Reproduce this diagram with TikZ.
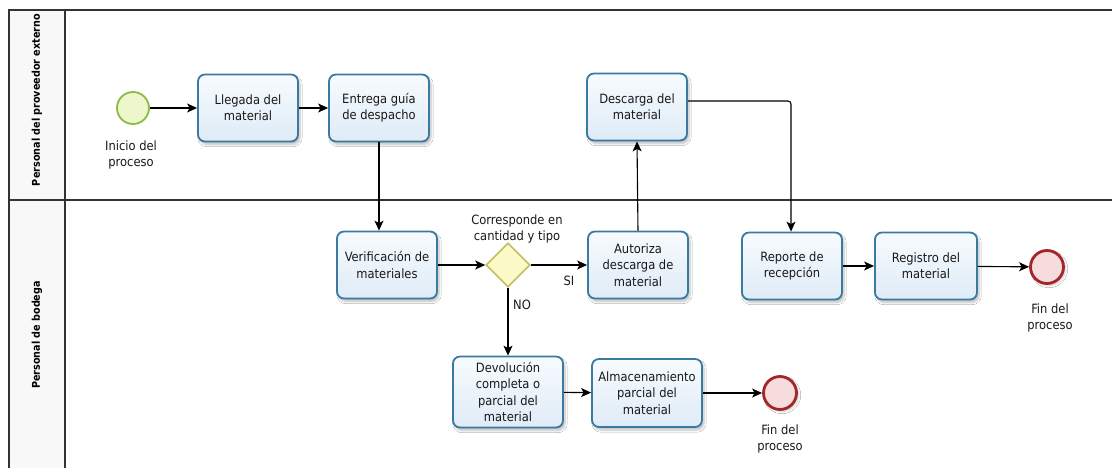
\documentclass[tikz,border=0pt]{standalone}
\usepackage{fontspec}
\setmainfont{DejaVu Sans Condensed}
\usetikzlibrary{arrows.meta,shapes.geometric,shadows.blur}

\definecolor{taskline}{HTML}{3A7AA0}
\definecolor{tasktop}{HTML}{F7FBFE}
\definecolor{taskbottom}{HTML}{DFEBF7}
\definecolor{startline}{HTML}{8CBB45}
\definecolor{startfill}{HTML}{EEF6CC}
\definecolor{endline}{HTML}{A3262A}
\definecolor{endfill}{HTML}{F6DCDC}
\definecolor{gateline}{HTML}{C4BE5E}
\definecolor{gatefill}{HTML}{FBF9C8}
\definecolor{poolline}{HTML}{333333}
\definecolor{lanefill}{HTML}{F8F8F8}

\tikzset{
  txt/.style={font=\fontsize{12.8}{16.3}\selectfont, align=center, text=black!90},
  task/.style={txt, rectangle, rounded corners=7pt, draw=taskline, line width=1.8pt,
    top color=tasktop, bottom color=taskbottom, minimum width=100pt,
    minimum height=67pt, inner sep=0pt,
    blur shadow={shadow xshift=2pt, shadow yshift=-3pt, shadow blur steps=6, shadow opacity=25}},
  startev/.style={circle, draw=startline, fill=startfill, line width=1.8pt, minimum size=32pt, inner sep=0pt},
  endev/.style={circle, draw=endline, fill=endfill, line width=2.8pt, minimum size=33pt, inner sep=0pt,
    blur shadow={shadow xshift=2pt, shadow yshift=-2pt, shadow blur steps=5, shadow opacity=20}},
  gateway/.style={diamond, draw=gateline, fill=gatefill, line width=1.6pt, minimum size=44pt, inner sep=0pt},
  evlabel/.style={txt},
  flowlabel/.style={txt, inner sep=1pt},
  lanelabel/.style={font=\fontsize{10.7}{13}\selectfont\bfseries, rotate=90, text=black},
  pool/.style={draw=poolline, line width=1.4pt},
  flow/.style={draw=black, line width=1.1pt, rounded corners=3pt,
    -{Stealth[length=10pt,width=9pt,inset=2.5pt]}}
}

\begin{document}
\begin{tikzpicture}[x=1pt,y=-1pt]
\useasboundingbox (0,0) rectangle (1112,468);
\fill[white] (0,0) rectangle (1112,468);

% pool with two lanes
\fill[lanefill] (9,10) rectangle (65,468);
\draw[pool] (1112,10) -- (9,10) -- (9,468);
\draw[pool] (65,10) -- (65,468);
\draw[pool] (9,200) -- (1112,200);
\node[lanelabel] (lane1) at (37,100) {Personal del proveedor externo};
\node[lanelabel] (lane2) at (37,335) {Personal de bodega};

% lane: proveedor externo
\node[startev] (start) at (133,108) {};
\node[evlabel] (startlbl) at (131,155) {Inicio del\\proceso};
\node[task] (llegada) at (248,108) {Llegada del\\material};
\node[task] (entrega) at (379,108) {Entrega guía\\de despacho};
\node[task] (descarga) at (637,107) {Descarga del\\material};

% lane: bodega
\node[task] (verif) at (387,265) {Verificación de\\materiales};
\node[gateway] (gw) at (508,265) {};
\node[txt] (gwlbl) at (517,229) {Corresponde en\\cantidad y tipo};
\node[task] (autoriza) at (638,265) {Autoriza\\descarga de\\material};
\node[task] (reporte) at (792,266) {Reporte de\\recepción};
\node[task, minimum width=102pt] (registro) at (926,266) {Registro del\\material};
\node[endev] (end1) at (1047,267) {};
\node[evlabel] (end1lbl) at (1050,318) {Fin del\\proceso};

\node[task, minimum width=110pt, minimum height=71pt] (devol) at (508,392) {Devolución\\completa o\\parcial del\\material};
\node[task, minimum width=110pt, minimum height=68pt] (almac) at (647,393) {Almacenamiento\\parcial del\\material};
\node[endev] (end2) at (780,393) {};
\node[evlabel] (end2lbl) at (780,439) {Fin del\\proceso};

% sequence flows
\draw[flow] (start) -- (llegada);
\draw[flow] (llegada) -- (entrega);
\draw[flow] (entrega.south) -- (entrega.south |- verif.north);
\draw[flow] (verif) -- (gw);
\draw[flow] (gw) -- (autoriza);
\node[flowlabel] (si) at (569,281) {SI};
\draw[flow] (autoriza.north) -- (descarga.south);
\coordinate (bend) at (791,101);
\draw[flow] ([yshift=6pt]descarga.east) -- (bend) -- (bend |- reporte.north);
\draw[flow] (reporte) -- (registro);
\draw[flow] (registro) -- (end1);
\draw[flow] (gw.south) -- (devol.north);
\node[flowlabel] (no) at (522,305) {NO};
\draw[flow] (devol) -- (almac);
\draw[flow] (almac) -- (end2);
\end{tikzpicture}
\end{document}
